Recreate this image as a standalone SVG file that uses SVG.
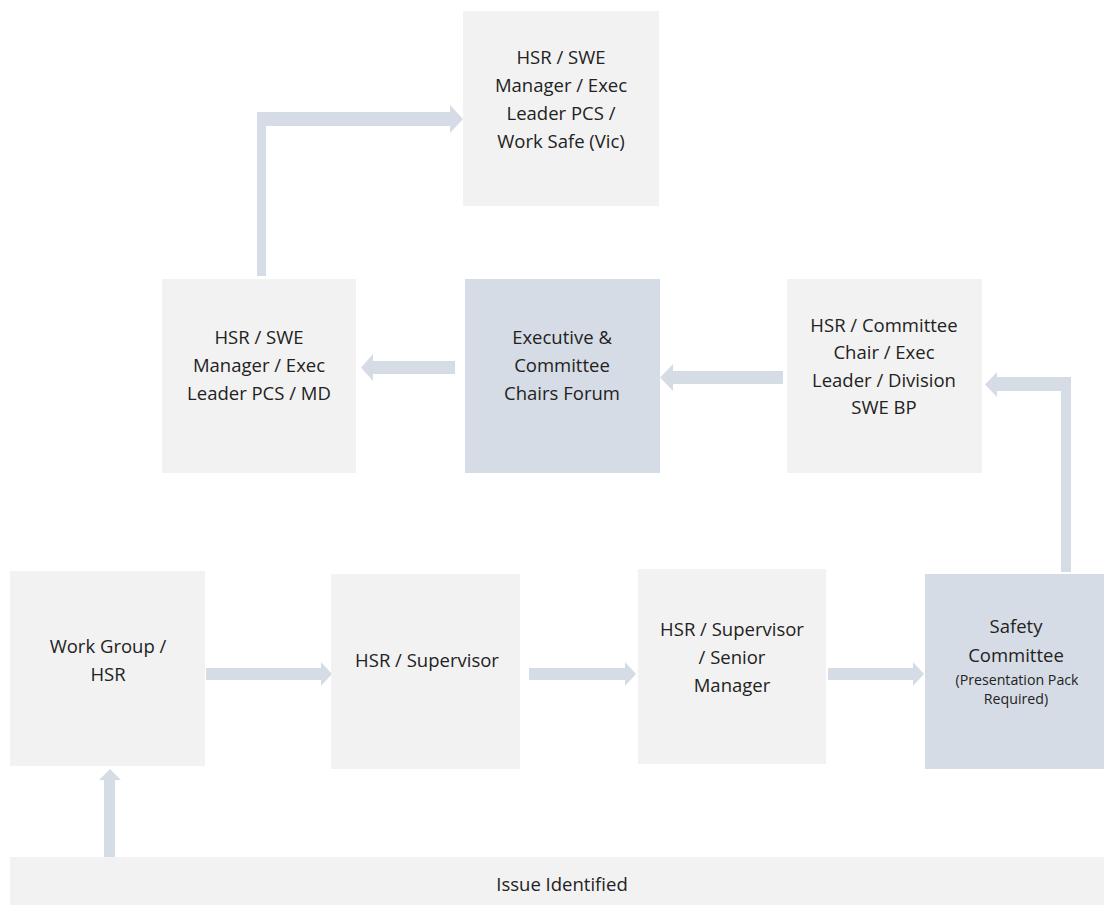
<svg xmlns="http://www.w3.org/2000/svg" width="1104" height="905" viewBox="0 0 1104 905">
<style>
.box{fill:#f2f2f2}
.dark{fill:#d6dce5}
.arr{fill:#d6dce5}
text{font-family:"Open Sans","Liberation Sans",sans-serif;font-size:18.5px;fill:#222222;text-anchor:middle}
.small{font-size:14.2px}
</style>
<rect width="1104" height="905" fill="#ffffff"/>
<g id="connectors">
<polygon class="arr" points="257,276 257,112 450,112 450,105 463,119 450,133 450,126 266,126 266,276"/>
<polygon class="arr" points="455,361 373,361 373,354 361,367.5 373,381 373,374 455,374"/>
<polygon class="arr" points="783,371 673,371 673,364 660,377.5 673,391 673,384 783,384"/>
<polygon class="arr" points="1071,572 1071,377 997,377 997,372 985,384.5 997,397 997,391 1061,391 1061,572"/>
<polygon class="arr" points="206,668 321,668 321,662 332,674 321,686 321,680 206,680"/>
<polygon class="arr" points="529,668 625,668 625,662 636,674 625,686 625,680 529,680"/>
<polygon class="arr" points="828,668 913,668 913,662 924,674 913,686 913,680 828,680"/>
<polygon class="arr" points="104,857 104,780 99,780 110,769 121,780 115,780 115,857"/>
</g>
<g id="n-top">
<rect class="box" x="463" y="11" width="196" height="195"/>
<text x="561" y="64">HSR / SWE</text>
<text x="561" y="92">Manager / Exec</text>
<text x="561" y="120">Leader PCS /</text>
<text x="561" y="148">Work Safe (Vic)</text>
</g>
<g id="n-left">
<rect class="box" x="162" y="279" width="194" height="194"/>
<text x="259" y="344">HSR / SWE</text>
<text x="259" y="372">Manager / Exec</text>
<text x="259" y="400">Leader PCS / MD</text>
</g>
<g id="n-forum">
<rect class="dark" x="465" y="279" width="195" height="194"/>
<text x="562" y="344">Executive &amp;</text>
<text x="562" y="372">Committee</text>
<text x="562" y="400">Chairs Forum</text>
</g>
<g id="n-right">
<rect class="box" x="787" y="279" width="195" height="194"/>
<text x="884" y="332">HSR / Committee</text>
<text x="884" y="359">Chair / Exec</text>
<text x="884" y="387">Leader / Division</text>
<text x="884" y="414">SWE BP</text>
</g>
<g id="n-workgroup">
<rect class="box" x="10" y="571" width="195" height="195"/>
<text x="108" y="653">Work Group /</text>
<text x="108" y="681">HSR</text>
</g>
<g id="n-supervisor">
<rect class="box" x="331" y="574" width="189" height="195"/>
<text x="427" y="667">HSR / Supervisor</text>
</g>
<g id="n-senior">
<rect class="box" x="638" y="569" width="188" height="195"/>
<text x="732" y="636">HSR / Supervisor</text>
<text x="732" y="664">/ Senior</text>
<text x="732" y="692">Manager</text>
</g>
<g id="n-safety">
<rect class="dark" x="925" y="574" width="179" height="195"/>
<text x="1016" y="633">Safety</text>
<text x="1016" y="662">Committee</text>
<text class="small" x="1017" y="685">(Presentation Pack</text>
<text class="small" x="1016" y="704">Required)</text>
</g>
<g id="n-issue">
<rect class="box" x="10" y="857" width="1094" height="48"/>
<text x="562" y="891">Issue Identified</text>
</g>
</svg>
